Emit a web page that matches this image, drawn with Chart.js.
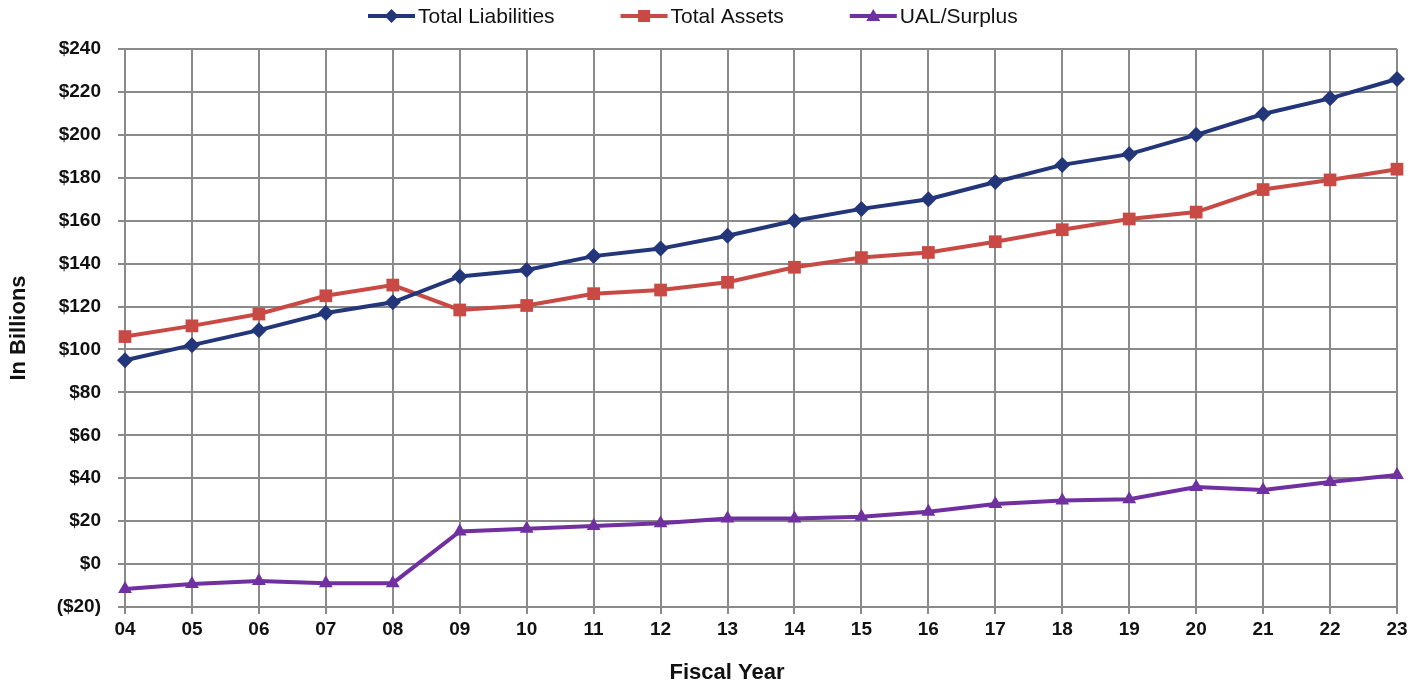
<!DOCTYPE html>
<html>
<head>
<meta charset="utf-8">
<script src="https://cdn.jsdelivr.net/npm/chart.js@4"></script>
<style>
    html, body { margin: 0; padding: 0; background: #fff; }
    #wrap { width: 1424px; height: 685px; }
</style>
</head>
<body>
<div id="wrap"><canvas id="chart"></canvas></div>
<script>
// Fiscal years and values (in billions)
const years = ['04', '05', '06', '07', '08', '09', '10', '11', '12', '13',
    '14', '15', '16', '17', '18', '19', '20', '21', '22', '23'];
const liabilities = [95, 102, 109, 117, 122, 134, 137, 143.5, 147, 153,
    160, 165.5, 170, 178, 186, 191, 200, 209.7, 217, 226];
const assets = [106, 111, 116.5, 125, 130, 118.4, 120.5, 126, 127.7, 131.3,
    138.3, 142.8, 145.2, 150.2, 155.8, 160.8, 164, 174.5, 179, 184];
const surplus = [-11.6, -9.3, -7.9, -8.9, -8.9, 15.2, 16.5, 17.7, 19, 21.2,
    21.2, 22, 24.4, 28, 29.6, 30.2, 35.9, 34.5, 38.2, 41.5];

const colors = {
    liab: '#23367a',
    assets: '#c94a44',
    ual: '#7030a0',
    grid: '#8a8a8a',
    text: '#111'
};
const font = "'Liberation Sans', Arial, sans-serif";

// small line + marker swatch, used by the legend plugin below
function drawSwatch(ctx, x, y, color, style) {
    ctx.save();
    ctx.strokeStyle = color;
    ctx.fillStyle = color;
    ctx.lineWidth = 4;
    ctx.beginPath();
    ctx.moveTo(x, y); ctx.lineTo(x + 47, y);
    ctx.stroke();
    const cx = x + 23.5;
    ctx.beginPath();
    if (style === 'rectRot') {
        ctx.moveTo(cx, y - 7); ctx.lineTo(cx + 7, y); ctx.lineTo(cx, y + 7); ctx.lineTo(cx - 7, y);
    } else if (style === 'rect') {
        ctx.rect(cx - 6, y - 6, 12, 12);
    } else {
        ctx.moveTo(cx, y - 7); ctx.lineTo(cx + 7, y + 5); ctx.lineTo(cx - 7, y + 5);
    }
    ctx.closePath();
    ctx.fill();
    ctx.restore();
}

// Excel-like legend: line with marker, wide gaps between entries
const lineLegend = {
    id: 'lineLegend',
    afterDraw(chart) {
        const ctx = chart.ctx;
        ctx.save();
        ctx.font = '21px ' + font;
        ctx.textBaseline = 'middle';
        ctx.fillStyle = colors.text;
        let x = 368;
        const y = 16;
        chart.data.datasets.forEach((ds) => {
            drawSwatch(ctx, x, y, ds.borderColor, ds.pointStyle);
            x += 50;
            ctx.fillText(ds.label, x, y + 1);
            x += ctx.measureText(ds.label).width + 66;
        });
        // x axis title sits a bit left of the plot centre in the original
        ctx.font = 'bold 22px ' + font;
        ctx.textAlign = 'center';
        ctx.fillText('Fiscal Year', 727, 673);
        ctx.restore();
    }
};

function series(label, data, color, style, radius) {
    return {
        label: label,
        data: data,
        borderColor: color,
        backgroundColor: color,
        borderWidth: 4,
        pointStyle: style,
        pointRadius: radius,
        pointBackgroundColor: color,
        pointBorderWidth: 0,
        tension: 0
    };
}

new Chart(document.getElementById('chart'), {
    type: 'line',
    data: {
        labels: years,
        datasets: [
            series('Total Liabilities', liabilities, colors.liab, 'rectRot', 8),
            series('Total Assets', assets, colors.assets, 'rect', 9),
            series('UAL/Surplus', surplus, colors.ual, 'triangle', 8)
        ]
    },
    plugins: [lineLegend],
    options: {
        responsive: true,
        maintainAspectRatio: false,
        animation: false,
        layout: { padding: { left: 6, right: 27, top: 49, bottom: 2 } },
        plugins: {
            tooltip: { enabled: false },
            legend: { display: false }
        },
        scales: {
            x: {
                offset: false,
                grid: { color: colors.grid, lineWidth: 2, tickLength: 7, tickColor: colors.grid },
                border: { color: colors.grid, width: 2 },
                ticks: {
                    color: colors.text,
                    padding: 4,
                    maxRotation: 0,
                    autoSkip: false,
                    font: { family: font, size: 19, weight: 'bold' }
                },
                afterFit: (s) => { s.height = 76; }
            },
            y: {
                min: -20,
                max: 240,
                grid: { color: colors.grid, lineWidth: 2, tickLength: 7, tickColor: colors.grid },
                border: { color: colors.grid, width: 2 },
                ticks: {
                    stepSize: 20,
                    color: colors.text,
                    padding: 17,
                    font: { family: font, size: 19, weight: 'bold' },
                    callback: (v) => v < 0 ? '($' + Math.abs(v) + ')' : '$' + v
                },
                title: {
                    display: true,
                    text: 'In Billions',
                    color: colors.text,
                    padding: { top: 0, bottom: 0 },
                    font: { family: font, size: 22, weight: 'bold' }
                },
                afterFit: (s) => { s.width = 119; }
            }
        }
    }
});
</script>
</body>
</html>
